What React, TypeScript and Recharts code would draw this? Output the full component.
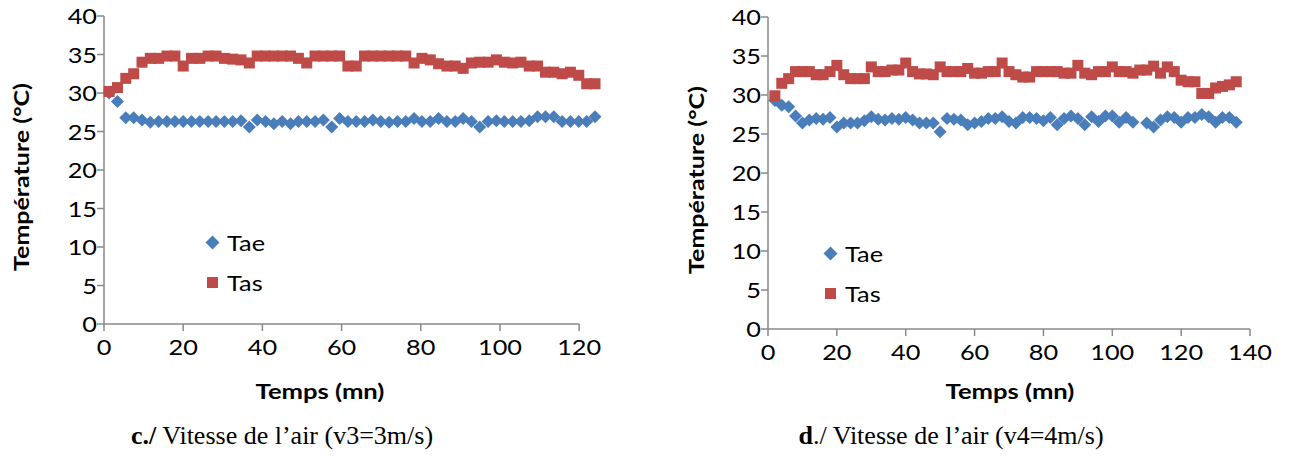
import React from 'react';
import { ScatterChart, Scatter, XAxis, YAxis, Legend, ReferenceLine } from 'recharts';

// ---- data ----
const LEFT_TIME = [
  1.3, 3.4, 5.5, 7.5, 9.6, 11.7, 13.8, 15.9, 17.9, 20.0,
  22.1, 24.2, 26.3, 28.3, 30.4, 32.5, 34.6, 36.7, 38.7, 40.8,
  42.9, 45.0, 47.1, 49.1, 51.2, 53.3, 55.4, 57.5, 59.5, 61.6,
  63.7, 65.8, 67.9, 69.9, 72.0, 74.1, 76.2, 78.3, 80.3, 82.4,
  84.5, 86.6, 88.7, 90.7, 92.8, 94.9, 97.0, 99.1, 101.1, 103.2,
  105.3, 107.4, 109.5, 111.5, 113.6, 115.7, 117.8, 119.9, 121.9, 124.0,
];
const LEFT_TAE = [
  30.0, 28.9, 26.8, 26.8, 26.5, 26.2, 26.3, 26.3, 26.3, 26.3,
  26.3, 26.3, 26.3, 26.3, 26.3, 26.3, 26.4, 25.6, 26.5, 26.3,
  26.0, 26.3, 26.0, 26.3, 26.3, 26.3, 26.5, 25.6, 26.7, 26.3,
  26.3, 26.3, 26.5, 26.3, 26.2, 26.3, 26.3, 26.7, 26.3, 26.3,
  26.7, 26.3, 26.3, 26.7, 26.3, 25.6, 26.3, 26.4, 26.3, 26.3,
  26.3, 26.4, 26.9, 26.9, 26.9, 26.3, 26.3, 26.3, 26.3, 26.9,
];
const LEFT_TAS = [
  30.2, 30.7, 31.9, 32.5, 34.0, 34.5, 34.5, 34.8, 34.8, 33.5,
  34.5, 34.5, 34.8, 34.8, 34.5, 34.4, 34.3, 33.9, 34.8, 34.8,
  34.8, 34.8, 34.8, 34.5, 33.9, 34.8, 34.8, 34.8, 34.8, 33.5,
  33.5, 34.8, 34.8, 34.8, 34.8, 34.8, 34.8, 33.9, 34.5, 34.3,
  33.8, 33.5, 33.5, 33.2, 33.9, 34.0, 34.0, 34.3, 34.0, 33.9,
  34.0, 33.5, 33.5, 32.7, 32.7, 32.5, 32.7, 32.3, 31.2, 31.2,
];

const RIGHT_TIME = [
  2, 4, 6, 8, 10, 12, 14, 16, 18, 20,
  22, 24, 26, 28, 30, 32, 34, 36, 38, 40,
  42, 44, 46, 48, 50, 52, 54, 56, 58, 60,
  62, 64, 66, 68, 70, 72, 74, 76, 78, 80,
  82, 84, 86, 88, 90, 92, 94, 96, 98, 100,
  102, 104, 106, 108, 110, 112, 114, 116, 118, 120,
  122, 124, 126, 128, 130, 132, 134, 136,
];
const RIGHT_TAE: (number | null)[] = [
  29.3, 28.7, 28.5, 27.3, 26.4, 26.8, 27.0, 26.9, 27.1, 25.9,
  26.4, 26.4, 26.4, 26.7, 27.2, 26.9, 26.8, 27.0, 26.9, 27.1,
  26.8, 26.4, 26.4, 26.4, 25.3, 27.0, 26.9, 26.8, 26.2, 26.4,
  26.6, 27.0, 27.0, 27.2, 26.6, 26.4, 27.1, 27.1, 27.0, 26.7,
  27.1, 26.2, 27.0, 27.3, 27.0, 26.2, 27.2, 26.6, 27.3, 27.3,
  26.5, 27.1, 26.5, null, 26.4, 25.9, 26.8, 27.2, 27.1, 26.5,
  27.1, 27.1, 27.5, 27.2, 26.5, 27.1, 27.1, 26.5,
];
const RIGHT_TAS = [
  29.9, 31.5, 32.1, 33.0, 33.0, 33.0, 32.6, 32.6, 33.0, 33.8,
  32.6, 32.1, 32.1, 32.1, 33.6, 33.0, 33.0, 33.2, 33.2, 34.1,
  33.0, 32.7, 32.7, 32.6, 33.6, 33.0, 33.0, 33.0, 33.4, 32.8,
  32.8, 33.0, 33.0, 34.1, 33.0, 32.6, 32.3, 32.3, 33.0, 33.0,
  33.0, 33.0, 32.8, 32.8, 33.8, 32.8, 32.6, 33.0, 33.0, 33.6,
  33.0, 33.0, 32.8, 33.2, 33.2, 33.7, 32.8, 33.6, 33.0, 31.9,
  31.7, 31.7, 30.2, 30.2, 30.9, 31.1, 31.3, 31.7,
];

const Y_TICKS = [0, 5, 10, 15, 20, 25, 30, 35, 40];
const LEFT_X_TICKS = [0, 20, 40, 60, 80, 100, 120];
const RIGHT_X_TICKS = [0, 20, 40, 60, 80, 100, 120, 140];
const SERIES = ['Tae', 'Tas'];
const X_TITLE = 'Temps (mn)';
const Y_TITLE = 'Température (°C)';

// ---- styles ----
const BLUE = '#4A7EBB';
const RED = '#BE4B48';
const AXIS = '#898989';
const FONT = 'Lato, "Open Sans", sans-serif';
const TICK_FS = 22;
const TICK_SX = 1.15;

const toPoints = (times: number[], vals: (number | null)[]) =>
  times.map((t, i) => ({ t, v: vals[i] })).filter((p) => p.v !== null);

const DiamondShape = (props: any) => {
  const { cx, cy } = props;
  if (cx == null || cy == null) return null;
  const r = 6.5;
  return <polygon points={`${cx},${cy - r} ${cx + r},${cy} ${cx},${cy + r} ${cx - r},${cy}`} fill={BLUE} />;
};
const SquareShape = (props: any) => {
  const { cx, cy } = props;
  if (cx == null || cy == null) return null;
  const s = 5.5;
  return <rect x={cx - s} y={cy - s} width={2 * s} height={2 * s} fill={RED} />;
};

const XTick = (props: any) => {
  const { x, y, payload } = props;
  return (
    <g transform={`translate(${x},${y})`}>
      <text transform={`scale(${TICK_SX},1)`} x={0} y={0} dy={22} textAnchor="middle" fontFamily={FONT} fontSize={TICK_FS} fill="#000">
        {payload.value}
      </text>
    </g>
  );
};
const YTick = (props: any) => {
  const { x, y, payload } = props;
  return (
    <g transform={`translate(${x},${y})`}>
      <text transform={`scale(${TICK_SX},1)`} x={0} y={0} dy={8} textAnchor="end" fontFamily={FONT} fontSize={TICK_FS} fill="#000">
        {payload.value}
      </text>
    </g>
  );
};

const LegendBox = () => (
  <div style={{ fontFamily: FONT, fontSize: 22, color: '#000' }}>
    {SERIES.map((name, i) => (
      <div key={name} style={{ display: 'flex', alignItems: 'center', height: 40 }}>
        <svg width={15} height={15} style={{ display: 'block' }}>
          {i === 0 ? (
            <polygon points="7.5,0.5 14.5,7.5 7.5,14.5 0.5,7.5" fill={BLUE} />
          ) : (
            <rect x={2} y={2} width={11} height={11} fill={RED} />
          )}
        </svg>
        <span style={{ marginLeft: 7, display: 'inline-block', transform: `scaleX(${TICK_SX})`, transformOrigin: 'left center' }}>
          {name}
        </span>
      </div>
    ))}
  </div>
);

type PanelProps = {
  left: number;
  width: number;
  margin: { top: number; right: number; left: number; bottom: number };
  xDomain: [number, number];
  xTicks: number[];
  axisEnd?: number;
  tae: { t: number; v: number | null }[];
  tas: { t: number; v: number | null }[];
  xTitleX: number;
  yTitleX: number;
  yTitleY: number;
  legendPos: { left: number; top: number };
};

const Panel = (p: PanelProps) => (
  <div style={{ position: 'absolute', left: p.left, top: 0 }}>
    <ScatterChart width={p.width} height={410} margin={p.margin}>
      <XAxis
        type="number"
        dataKey="t"
        domain={p.xDomain}
        ticks={p.xTicks}
        interval={0}
        height={60}
        axisLine={p.axisEnd == null ? { stroke: AXIS, strokeWidth: 1.5 } : false}
        tickLine={{ stroke: AXIS, strokeWidth: 1.5 }}
        tickSize={7}
        tick={<XTick />}
        label={{
          content: () => (
            <text x={0} y={0} textAnchor="middle" fontFamily={FONT} fontWeight={700} fontSize={21} fill="#000"
              transform={`translate(${p.xTitleX},399) scale(1.22,1)`}>
              {X_TITLE}
            </text>
          ),
        }}
      />
      <YAxis
        type="number"
        dataKey="v"
        domain={[0, 40]}
        ticks={Y_TICKS}
        interval={0}
        width={60}
        axisLine={{ stroke: AXIS, strokeWidth: 1.5 }}
        tickLine={{ stroke: AXIS, strokeWidth: 1.5 }}
        tickSize={7}
        tickMargin={0}
        tick={<YTick />}
        label={{
          content: () => (
            <text transform={`translate(${p.yTitleX},${p.yTitleY}) rotate(-90) scale(1.25,1)`} textAnchor="middle"
              fontFamily={FONT} fontWeight={700} fontSize={20} fill="#000">
              {Y_TITLE}
            </text>
          ),
        }}
      />
      {p.axisEnd != null && (
        <ReferenceLine segment={[{ x: 0, y: 0 }, { x: p.axisEnd, y: 0 }]} stroke={AXIS} strokeWidth={1.5} />
      )}
      <Scatter name={SERIES[0]} data={p.tae} fill={BLUE} shape={DiamondShape} legendType="diamond" isAnimationActive={false} />
      <Scatter name={SERIES[1]} data={p.tas} fill={RED} shape={SquareShape} legendType="square" isAnimationActive={false} />
      <Legend
        layout="vertical"
        align="center"
        verticalAlign="middle"
        content={() => <LegendBox />}
        wrapperStyle={{ left: p.legendPos.left, top: p.legendPos.top, width: 'auto' }}
      />
    </ScatterChart>
  </div>
);

const captionStyle: React.CSSProperties = {
  position: 'absolute',
  top: 421,
  fontFamily: '"Liberation Serif", "Times New Roman", serif',
  fontSize: 26,
  lineHeight: '30px',
  whiteSpace: 'nowrap',
  transform: 'translateX(-50%)',
  color: '#000',
};

export default function App() {
  return (
    <div style={{ position: 'absolute', left: 0, top: 0, width: 1291, height: 456, background: '#fff', overflow: 'hidden' }}>
      <Panel
        left={0}
        width={645}
        margin={{ top: 16, right: 50, left: 44, bottom: 26 }}
        xDomain={[0, 124]}
        xTicks={LEFT_X_TICKS}
        axisEnd={120}
        tae={toPoints(LEFT_TIME, LEFT_TAE)}
        tas={toPoints(LEFT_TIME, LEFT_TAS)}
        xTitleX={320}
        yTitleX={29}
        yTitleY={177}
        legendPos={{ left: 205, top: 222 }}
      />
      <Panel
        left={645}
        width={646}
        margin={{ top: 17, right: 41, left: 63, bottom: 21 }}
        xDomain={[0, 140]}
        xTicks={RIGHT_X_TICKS}
        tae={toPoints(RIGHT_TIME, RIGHT_TAE)}
        tas={toPoints(RIGHT_TIME, RIGHT_TAS)}
        xTitleX={365}
        yTitleX={59}
        yTitleY={180}
        legendPos={{ left: 178, top: 233 }}
      />
      <div style={{ ...captionStyle, left: 282 }}>
        <b>c./</b> Vitesse de l’air (v3=3m/s)
      </div>
      <div style={{ ...captionStyle, left: 951 }}>
        <b>d</b>./ Vitesse de l’air (v4=4m/s)
      </div>
    </div>
  );
}
